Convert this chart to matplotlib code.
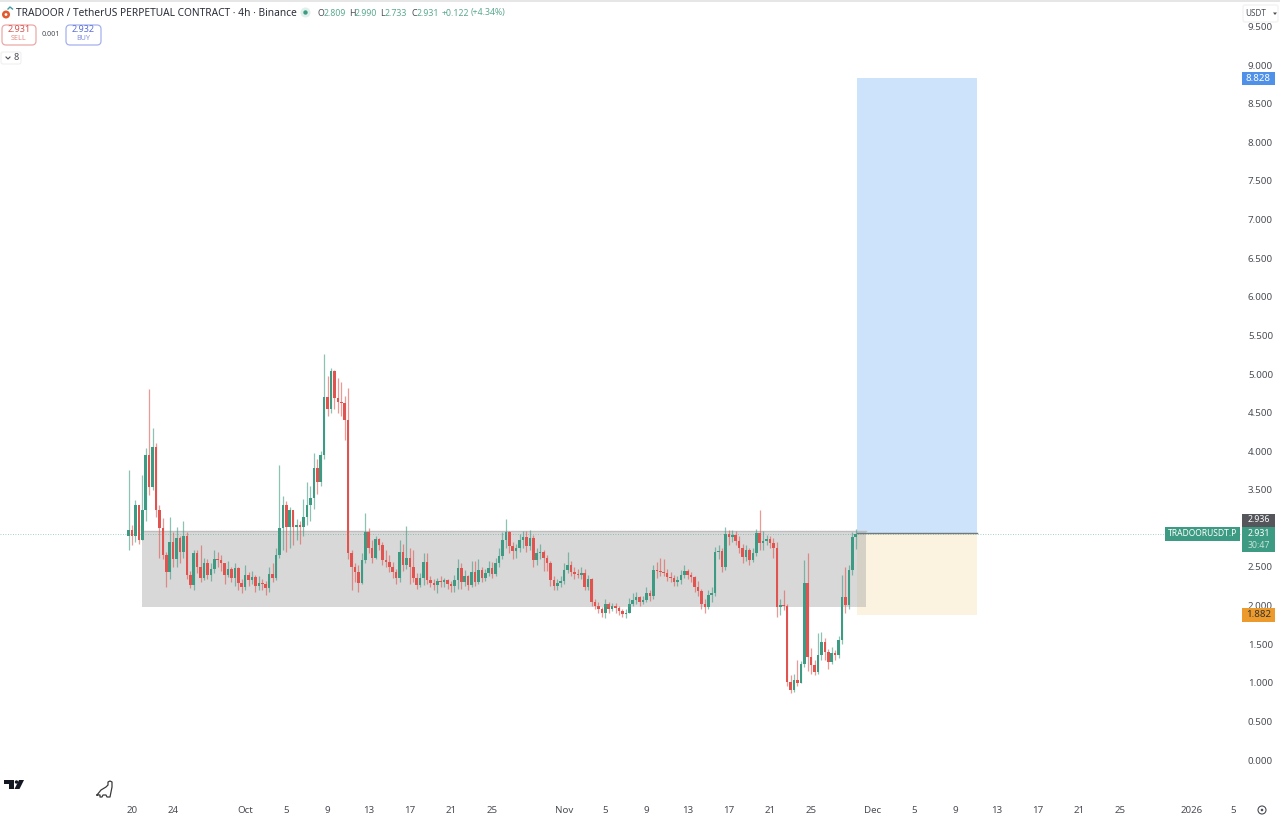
import pandas as pd
import matplotlib
matplotlib.use('Agg')
import matplotlib.pyplot as plt
import matplotlib.dates as mdates
from matplotlib.patches import Rectangle, FancyBboxPatch, Polygon, Circle

plt.rcParams['font.family'] = ['Noto Sans', 'DejaVu Sans']

# candles, thinned to 8h steps, open = previous close
first_candle = '2025-09-19 16:00'
first_open = 2.90
closes = [
    2.98, 2.90, 3.30, 2.85, 3.24, 3.95, 3.54, 4.05, 3.24, 3.00,
    2.65, 2.43, 2.82, 2.60, 2.87, 2.70, 2.90, 2.40, 2.27, 2.68,
    2.50, 2.36, 2.55, 2.40, 2.47, 2.60, 2.59, 2.55, 2.40, 2.47,
    2.36, 2.49, 2.29, 2.24, 2.40, 2.33, 2.37, 2.25, 2.29, 2.28,
    2.23, 2.41, 2.36, 2.66, 3.00, 3.30, 3.02, 3.24, 3.02, 3.05,
    3.02, 3.15, 3.30, 3.40, 3.78, 3.60, 3.95, 4.70, 4.55, 5.04,
    4.69, 4.64, 4.62, 4.40, 2.68, 2.50, 2.44, 2.29, 2.59, 2.95,
    2.75, 2.62, 2.86, 2.78, 2.59, 2.57, 2.50, 2.44, 2.36, 2.69,
    2.53, 2.62, 2.50, 2.36, 2.27, 2.36, 2.57, 2.33, 2.29, 2.27,
    2.32, 2.31, 2.33, 2.28, 2.25, 2.33, 2.49, 2.31, 2.38, 2.27,
    2.44, 2.31, 2.46, 2.36, 2.42, 2.49, 2.41, 2.55, 2.64, 2.85,
    2.95, 2.77, 2.71, 2.75, 2.85, 2.89, 2.77, 2.88, 2.59, 2.68,
    2.69, 2.62, 2.55, 2.33, 2.25, 2.29, 2.32, 2.46, 2.52, 2.44,
    2.41, 2.40, 2.42, 2.24, 2.34, 2.05, 2.00, 1.96, 1.90, 2.02,
    1.96, 2.00, 1.97, 1.93, 1.89, 1.90, 2.02, 2.07, 2.11, 2.05,
    2.07, 2.16, 2.12, 2.46, 2.45, 2.44, 2.42, 2.37, 2.36, 2.31,
    2.33, 2.40, 2.45, 2.40, 2.37, 2.24, 2.19, 2.02, 1.98, 2.14,
    2.16, 2.69, 2.71, 2.50, 2.93, 2.89, 2.91, 2.84, 2.75, 2.63,
    2.72, 2.59, 2.68, 2.94, 2.81, 2.84, 2.86, 2.81, 2.75, 1.98,
    2.01, 1.99, 1.01, 0.91, 1.04, 1.00, 1.24, 2.29, 1.33, 1.23,
    1.14, 1.36, 1.53, 1.40, 1.27, 1.39, 1.36, 1.55, 2.11, 2.01,
    2.46, 2.89, 2.931,
]
highs = [
    3.76, 3.05, 3.37, 3.05, 3.69, 4.04, 4.80, 4.30, 4.10, 3.30,
    3.14, 2.70, 3.15, 2.95, 3.02, 2.90, 3.10, 2.95, 2.45, 2.72,
    2.72, 2.78, 2.62, 2.60, 2.55, 2.72, 2.70, 2.66, 2.52, 2.58,
    2.50, 2.55, 2.50, 2.35, 2.52, 2.43, 2.45, 2.40, 2.38, 2.35,
    2.32, 2.50, 2.55, 2.75, 3.82, 3.42, 3.35, 3.28, 3.22, 3.12,
    3.10, 3.38, 3.60, 3.55, 3.98, 3.90, 4.00, 5.26, 4.98, 5.08,
    5.05, 4.95, 4.90, 4.72, 4.82, 2.72, 2.55, 2.52, 2.68, 3.20,
    3.00, 2.85, 2.90, 2.88, 2.82, 2.72, 2.65, 2.56, 2.48, 2.85,
    2.80, 3.03, 2.74, 2.72, 2.42, 2.42, 2.68, 2.68, 2.38, 2.34,
    2.36, 2.38, 2.36, 2.35, 2.32, 2.40, 2.60, 2.55, 2.46, 2.40,
    2.58, 2.58, 2.60, 2.50, 2.48, 2.58, 2.56, 2.62, 2.74, 2.95,
    3.12, 2.97, 2.82, 2.80, 2.93, 2.97, 2.96, 2.98, 2.92, 2.75,
    2.80, 2.72, 2.65, 2.58, 2.38, 2.34, 2.38, 2.55, 2.70, 2.58,
    2.50, 2.47, 2.50, 2.47, 2.40, 2.36, 2.08, 2.05, 1.98, 2.08,
    2.05, 2.04, 2.03, 2.00, 1.96, 1.95, 2.10, 2.16, 2.17, 2.13,
    2.12, 2.24, 2.20, 2.52, 2.56, 2.62, 2.60, 2.48, 2.44, 2.40,
    2.38, 2.46, 2.52, 2.47, 2.44, 2.38, 2.32, 2.22, 2.08, 2.20,
    2.24, 2.76, 2.78, 2.74, 3.02, 2.98, 2.98, 2.96, 2.90, 2.80,
    2.78, 2.74, 2.74, 2.99, 3.24, 2.96, 2.92, 2.90, 2.88, 2.82,
    2.08, 2.20, 2.02, 1.10, 1.12, 1.30, 1.28, 2.59, 2.68, 1.45,
    1.30, 1.65, 1.66, 1.58, 1.44, 1.46, 1.42, 1.60, 2.40, 2.50,
    2.52, 2.95, 2.99,
]
lows = [
    2.72, 2.78, 2.82, 2.80, 2.85, 3.10, 3.43, 3.50, 3.15, 2.62,
    2.60, 2.24, 2.35, 2.50, 2.50, 2.55, 2.62, 2.35, 2.23, 2.20,
    2.42, 2.30, 2.33, 2.35, 2.32, 2.42, 2.50, 2.45, 2.28, 2.37,
    2.30, 2.25, 2.20, 2.16, 2.20, 2.25, 2.28, 2.18, 2.20, 2.20,
    2.14, 2.18, 2.30, 2.33, 2.62, 2.72, 2.70, 2.75, 2.78, 2.85,
    2.80, 2.90, 3.05, 3.10, 3.25, 3.45, 3.55, 3.90, 4.45, 4.50,
    4.55, 4.50, 4.45, 4.15, 2.60, 2.20, 2.30, 2.18, 2.28, 2.55,
    2.68, 2.55, 2.60, 2.72, 2.52, 2.50, 2.44, 2.36, 2.28, 2.30,
    2.45, 2.48, 2.28, 2.30, 2.22, 2.24, 2.27, 2.28, 2.24, 2.20,
    2.16, 2.24, 2.24, 2.22, 2.18, 2.18, 2.22, 2.22, 2.25, 2.20,
    2.24, 2.26, 2.28, 2.30, 2.32, 2.38, 2.36, 2.38, 2.50, 2.60,
    2.75, 2.68, 2.60, 2.62, 2.70, 2.75, 2.70, 2.72, 2.50, 2.52,
    2.60, 2.45, 2.45, 2.25, 2.20, 2.20, 2.24, 2.28, 2.42, 2.38,
    2.34, 2.36, 2.35, 2.20, 2.20, 2.00, 1.95, 1.90, 1.85, 1.84,
    1.90, 1.93, 1.90, 1.88, 1.85, 1.84, 1.90, 2.00, 2.02, 2.00,
    2.02, 2.05, 2.06, 2.08, 2.36, 2.38, 2.38, 2.32, 2.30, 2.26,
    2.26, 2.28, 2.36, 2.34, 2.30, 2.18, 2.12, 1.96, 1.90, 1.96,
    2.05, 2.12, 2.60, 2.44, 2.46, 2.78, 2.82, 2.78, 2.68, 2.55,
    2.58, 2.52, 2.56, 2.64, 2.72, 2.72, 2.78, 2.74, 2.62, 1.85,
    1.88, 1.94, 0.96, 0.87, 0.88, 0.96, 1.00, 1.20, 1.15, 1.12,
    1.10, 1.12, 1.30, 1.30, 1.18, 1.24, 1.30, 1.32, 1.50, 1.90,
    1.96, 2.40, 2.733,
]

# 3.000 sits under the price tags in the reference, so it is left out
y_ticks = [0.0, 0.5, 1.0, 1.5, 2.0, 2.5, 3.5, 4.0, 4.5, 5.0, 5.5, 6.0, 6.5, 7.0, 7.5, 8.0, 8.5, 9.0, 9.5]
x_tick_dates = ['2025-09-20', '2025-09-24', '2025-10-01', '2025-10-05', '2025-10-09', '2025-10-13',
                '2025-10-17', '2025-10-21', '2025-10-25', '2025-11-01', '2025-11-05', '2025-11-09',
                '2025-11-13', '2025-11-17', '2025-11-21', '2025-11-25', '2025-12-01', '2025-12-05',
                '2025-12-09', '2025-12-13', '2025-12-17', '2025-12-21', '2025-12-25', '2026-01-01', '2026-01-05']
x_tick_labels = ['20', '24', 'Oct', '5', '9', '13', '17', '21', '25', 'Nov', '5', '9', '13', '17', '21', '25',
                 'Dec', '5', '9', '13', '17', '21', '25', '2026', '5']

entry_price = 2.936
target_price = 8.828
stop_price = 1.882
last_price = 2.931
range_top = 2.96
range_bottom = 1.98

green = '#3d9a83'
red = '#e0534f'
text_col = '#4a4d55'

# scale of the reference: 10.29 px per day, 77.2 px per price unit
day_px = 10.29
price_px = 77.2
base = mdates.date2num(pd.Timestamp('2025-09-20'))


def day(stamp):
    return mdates.date2num(pd.Timestamp(stamp))


fig = plt.figure(figsize=(12.8, 8.15), dpi=100, facecolor='white')
ax = fig.add_axes([0, 18/815, 1241/1280, 797/815])
ax.set_xlim(base - 132/day_px, base + 1109/day_px)
ax.set_ylim(-37/price_px, 760/price_px)
for s in ax.spines.values():
    s.set_visible(False)

pos_start = day('2025-11-29 12:00')
pos_end = day('2025-12-11 03:00')
range_start = day('2025-09-21')
range_end = day('2025-11-30 08:00')

# position boxes
ax.add_patch(Rectangle((pos_start, entry_price), pos_end - pos_start, target_price - entry_price,
                       fc='#cce3fb', ec='none', zorder=1))
ax.add_patch(Rectangle((pos_start, stop_price), pos_end - pos_start, entry_price - stop_price,
                       fc='#fbf2e0', ec='none', zorder=1))
ax.add_patch(Rectangle((range_start, range_bottom), range_end - range_start, range_top - range_bottom,
                       fc='#a9a9a9', alpha=0.45, ec='none', zorder=1.5))
ax.plot([range_start, range_end], [range_top, range_top], color='#bdbdbd', lw=1, zorder=1.6)

# candles
dates = mdates.date2num(pd.date_range(first_candle, periods=len(closes), freq='8h'))
opens = [first_open] + closes[:-1]
colors = [green if c >= o else red for o, c in zip(opens, closes)]
ax.vlines(dates, lows, highs, colors=colors, lw=0.9, alpha=0.6, zorder=2)
ax.bar(dates, [abs(c - o) for o, c in zip(opens, closes)], bottom=[min(o, c) for o, c in zip(opens, closes)],
       width=0.25, color=colors, linewidth=0, zorder=3)

ax.axhline(last_price, color=green, lw=0.6, ls=(0, (1, 2)), alpha=0.6, zorder=1.8)
ax.plot([pos_start, pos_end], [entry_price, entry_price], color='#6f7b7b', lw=1, zorder=2)

ax.yaxis.tick_right()
ax.set_yticks(y_ticks)
ax.set_yticklabels(['%.3f' % v for v in y_ticks])
ax.set_xticks([day(d) for d in x_tick_dates])
ax.set_xticklabels(x_tick_labels)
ax.tick_params(axis='y', length=0, pad=5, labelsize=7, labelcolor=text_col)
ax.tick_params(axis='x', length=0, pad=6.5, labelsize=7, labelcolor=text_col)
ax.get_xticklabels()[x_tick_labels.index('2026')].set_fontweight('bold')

# interface layer in pixel coordinates
ui = fig.add_axes([0, 0, 1, 1], zorder=5)
ui.set_xlim(0, 1280)
ui.set_ylim(815, 0)
ui.axis('off')
ui.patch.set_alpha(0)


def tag(x0, x1, price, h, col, label, tcol='white', size=7):
    ui.add_patch(Rectangle((x0, 760 - price*price_px - h/2), x1 - x0, h, fc=col, ec='none'))
    ui.text((x0 + x1)/2, 760 - price*price_px, label, color=tcol, fontsize=size, ha='center', va='center')


ui.add_patch(Rectangle((0, 0), 1280, 2, fc='#e6e6e6', ec='none'))
tag(1242, 1275, target_price, 13, '#4f90e8', '8.828')
tag(1242, 1275, stop_price, 14, '#ec9a2b', '1.882', tcol='#333333')
ui.add_patch(Rectangle((1242, 514), 33, 13, fc='#54565c', ec='none'))
ui.text(1258.5, 520, '2.936', color='white', fontsize=6.3, ha='center', va='center')
ui.add_patch(Rectangle((1242, 527), 33, 25, fc=green, ec='none'))
ui.text(1258.5, 534, '2.931', color='white', fontsize=6.3, ha='center', va='center')
ui.text(1258.5, 545, '30:47', color='#c5e3da', fontsize=6.3, ha='center', va='center')
ui.add_patch(Rectangle((1165, 527), 75, 14, fc=green, ec='none'))
ui.text(1202.5, 534, 'TRADOORUSDT.P', color='white', fontsize=6.1, ha='center', va='center')

# legend row
ui.add_patch(Circle((6, 14.5), 4, fc='#e2592f', ec='none'))
ui.add_patch(Circle((6, 14.5), 1.4, fc='white', ec='none'))
ui.plot([8, 10, 12.5], [9, 7, 9], color='#3f9aa5', lw=1)
ui.text(16, 13.5, 'TRADOOR / TetherUS PERPETUAL CONTRACT · 4h · Binance', color='#2a2e39', fontsize=7.35,
        ha='left', va='center')
ui.add_patch(Circle((305.5, 12.5), 5, fc='#dff0ea', ec='none'))
ui.add_patch(Circle((305.5, 12.5), 2.2, fc=green, ec='none'))
for x, s, c in [(318, 'O', '#4a4d55'), (324, '2.809', '#5aa990'), (349, 'H', '#4a4d55'), (355, '2.990', '#5aa990'),
                (380, 'L', '#4a4d55'), (385, '2.733', '#5aa990'), (411, 'C', '#4a4d55'), (417, '2.931', '#5aa990'),
                (442, '+0.122', '#5aa990'), (471, '(+4.34%)', '#5aa990')]:
    ui.text(x, 13, s, color=c, fontsize=6.3, ha='left', va='center')

ui.add_patch(FancyBboxPatch((2, 25), 34, 20, boxstyle='round,pad=0,rounding_size=4', fc='white', ec='#eba9a6', lw=0.9))
ui.text(19, 30, '2.931', color='#d9534f', fontsize=6.5, ha='center', va='center')
ui.text(19, 39, 'SELL', color='#e08a87', fontsize=5.2, ha='center', va='center')
ui.text(51, 34.5, '0.001', color=text_col, fontsize=5.2, ha='center', va='center')
ui.add_patch(FancyBboxPatch((66, 25), 35, 20, boxstyle='round,pad=0,rounding_size=4', fc='white', ec='#a4b1ee', lw=0.9))
ui.text(83.5, 30, '2.932', color='#5a6fd8', fontsize=6.5, ha='center', va='center')
ui.text(83.5, 39, 'BUY', color='#8492e0', fontsize=5.2, ha='center', va='center')
ui.add_patch(FancyBboxPatch((1, 52), 20, 12, boxstyle='round,pad=0,rounding_size=2', fc='white', ec='#efefef', lw=0.8))
ui.plot([6, 8, 10], [57, 59, 57], color=text_col, lw=0.8)
ui.text(16, 58, '8', color=text_col, fontsize=6.5, ha='center', va='center')

ui.add_patch(FancyBboxPatch((1243, 5), 35, 17, boxstyle='round,pad=0,rounding_size=2', fc='white', ec='#f0f0f0', lw=0.8))
ui.text(1245.5, 13.5, 'USDT', color=text_col, fontsize=5.8, ha='left', va='center')
ui.add_patch(Polygon([(1273, 12.5), (1277, 12.5), (1275, 15)], fc=text_col, ec='none'))

# tradingview mark and dino
ui.add_patch(Polygon([(4, 780), (14, 780), (14, 789), (8.5, 789), (8.5, 783.5), (4, 783.5)], fc='#131722', ec='none'))
ui.add_patch(Circle((16.5, 782), 1.7, fc='#131722', ec='none'))
ui.add_patch(Polygon([(19, 780), (24, 780), (19.5, 789), (14.5, 789)], fc='#131722', ec='none'))
ui.plot([97, 101, 106, 108, 108, 110, 112, 112, 111, 110, 107, 106, 103, 102, 100, 100, 97],
        [795, 790, 787, 785, 782, 781, 782, 787, 792, 797, 797, 795, 795, 797, 797, 795, 795],
        color='#3a3a3a', lw=0.9)
ui.add_patch(Circle((1262, 810), 4, fc='none', ec=text_col, lw=0.8))
ui.add_patch(Circle((1262, 810), 1.3, fc=text_col, ec='none'))

fig.savefig('out.png', dpi=100)
